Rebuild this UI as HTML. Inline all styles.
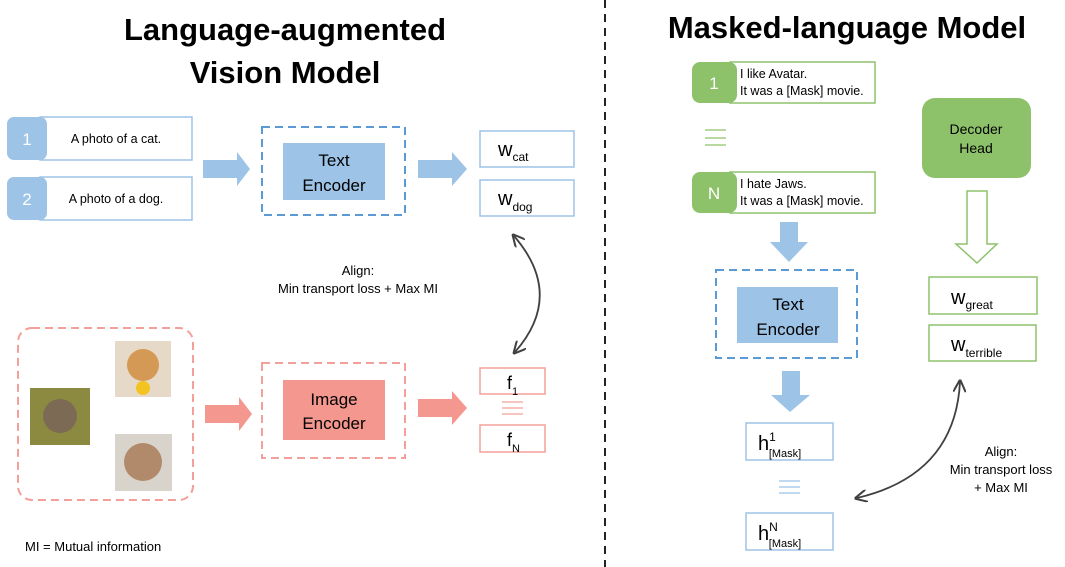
<!DOCTYPE html>
<html><head><meta charset="utf-8"><style>
body{margin:0;background:#fff}
svg{display:block;font-family:"Liberation Sans",sans-serif}
</style></head><body>
<svg width="1065" height="567" viewBox="0 0 1065 567" xmlns="http://www.w3.org/2000/svg">
<defs>
<marker id="ah" viewBox="0 0 10 10" refX="8" refY="5" markerWidth="7" markerHeight="7" orient="auto-start-reverse"><path d="M0,0 L10,5 L0,10" fill="none" stroke="#404040" stroke-width="1.6"/></marker>
</defs>
<!-- titles -->
<g font-weight="bold" font-size="31" text-anchor="middle" fill="#000">
<text x="285" y="40">Language-augmented</text>
<text x="285" y="83">Vision Model</text>
<text x="847" y="38">Masked-language Model</text>
</g>
<line x1="605" y1="0" x2="605" y2="567" stroke="#222" stroke-width="2" stroke-dasharray="8,6"/>

<!-- left text prompts -->
<g fill="#fff" stroke="#9dc3e6" stroke-width="1.5">
<rect x="40" y="117" width="152" height="43"/><rect x="40" y="177" width="152" height="43"/>
</g>
<rect x="7" y="117" width="40" height="43" rx="7" fill="#9dc3e6"/>
<rect x="7" y="177" width="40" height="43" rx="7" fill="#9dc3e6"/>
<g font-size="17" fill="#fff" text-anchor="middle"><text x="27" y="145">1</text><text x="27" y="205">2</text></g>
<g font-size="12.5" text-anchor="middle" fill="#000"><text x="116" y="143">A photo of a cat.</text><text x="116" y="203">A photo of a dog.</text></g>
<path d="M203,160 H237 V152 L250,169 L237,186 V178 H203Z" fill="#9dc3e6"/>
<rect x="262" y="127" width="143" height="88" fill="none" stroke="#5b9bd5" stroke-width="2" stroke-dasharray="8,5"/>
<rect x="283" y="143" width="102" height="57" fill="#9dc3e6"/>
<g font-size="17" text-anchor="middle"><text x="334" y="166">Text</text><text x="334" y="191">Encoder</text></g>
<path d="M418,160 H452 V152 L467,169 L452,186 V178 H418Z" fill="#9dc3e6"/>
<g fill="#fff" stroke="#9dc3e6" stroke-width="1.5"><rect x="480" y="131" width="94" height="36"/><rect x="480" y="180" width="94" height="36"/></g>
<text x="498" y="156" font-size="20">w<tspan font-size="12" dy="5">cat</tspan></text>
<text x="498" y="205" font-size="20">w<tspan font-size="12" dy="6">dog</tspan></text>
<path d="M514,236 Q565,295 515,352" fill="none" stroke="#404040" stroke-width="1.8" marker-start="url(#ah)" marker-end="url(#ah)"/>
<g font-size="13" text-anchor="middle"><text x="358" y="275">Align:</text><text x="358" y="293">Min transport loss + Max MI</text></g>

<!-- images -->
<rect x="18" y="328" width="175" height="172" rx="14" fill="none" stroke="#f4a09a" stroke-width="2" stroke-dasharray="8,5"/>
<rect x="115" y="341" width="56" height="56" fill="#e7d9c8"/><circle cx="143" cy="365" r="16" fill="#d49a55"/><circle cx="143" cy="388" r="7" fill="#f3c322"/>
<rect x="30" y="388" width="60" height="57" fill="#8c8a40"/><circle cx="60" cy="416" r="17" fill="#7c6a55"/>
<rect x="115" y="434" width="57" height="57" fill="#d8d4cc"/><circle cx="143" cy="462" r="19" fill="#b08a6a"/>
<path d="M205,405 H239 V397 L252,414 L239,431 V423 H205Z" fill="#f4978e"/>
<rect x="262" y="363" width="143" height="95" fill="none" stroke="#f4a09a" stroke-width="2" stroke-dasharray="8,5"/>
<rect x="283" y="380" width="102" height="60" fill="#f4978e"/>
<g font-size="17" text-anchor="middle"><text x="334" y="405">Image</text><text x="334" y="429">Encoder</text></g>
<path d="M418,399 H452 V391 L467,408 L452,425 V417 H418Z" fill="#f4978e"/>
<g fill="#fff" stroke="#f4a09a" stroke-width="1.5"><rect x="480" y="368" width="65" height="26"/><rect x="480" y="425" width="65" height="27"/></g>
<g stroke="#f4a09a" stroke-width="1.2"><line x1="502" y1="402" x2="523" y2="402"/><line x1="502" y1="408" x2="523" y2="408"/><line x1="502" y1="414" x2="523" y2="414"/></g>
<text x="507" y="389" font-size="18">f<tspan font-size="11" dy="6">1</tspan></text>
<text x="507" y="446" font-size="18">f<tspan font-size="11" dy="6">N</tspan></text>
<text x="25" y="551" font-size="13">MI = Mutual information</text>

<!-- right -->
<g fill="#fff" stroke="#8dc26b" stroke-width="1.5"><rect x="730" y="62" width="145" height="41"/><rect x="730" y="172" width="145" height="41"/></g>
<rect x="692" y="62" width="45" height="41" rx="8" fill="#8dc26b"/>
<rect x="692" y="172" width="45" height="41" rx="8" fill="#8dc26b"/>
<g font-size="17" fill="#fff" text-anchor="middle"><text x="714" y="89">1</text><text x="714" y="199">N</text></g>
<g font-size="12.5"><text x="740" y="78">I like Avatar.</text><text x="740" y="95">It was a [Mask] movie.</text>
<text x="740" y="188">I hate Jaws.</text><text x="740" y="205">It was a [Mask] movie.</text></g>
<g stroke="#8dc26b" stroke-width="1.2"><line x1="705" y1="130" x2="726" y2="130"/><line x1="705" y1="138" x2="726" y2="138"/><line x1="705" y1="145" x2="726" y2="145"/></g>
<path d="M780,222 H798 V242 H808 L789,262 L770,242 H780Z" fill="#9dc3e6"/>
<rect x="716" y="270" width="141" height="88" fill="none" stroke="#5b9bd5" stroke-width="2" stroke-dasharray="8,5"/>
<rect x="737" y="287" width="101" height="56" fill="#9dc3e6"/>
<g font-size="17" text-anchor="middle"><text x="788" y="310">Text</text><text x="788" y="335">Encoder</text></g>
<path d="M782,371 H800 V395 H810 L790,412 L771,395 H782Z" fill="#9dc3e6"/>
<g fill="#fff" stroke="#9dc3e6" stroke-width="1.5"><rect x="746" y="423" width="87" height="37"/><rect x="746" y="513" width="87" height="37"/></g>
<g stroke="#9dc3e6" stroke-width="1.2"><line x1="779" y1="481" x2="800" y2="481"/><line x1="779" y1="487" x2="800" y2="487"/><line x1="779" y1="493" x2="800" y2="493"/></g>
<text x="758" y="450" font-size="20">h<tspan font-size="12" dy="-9">1</tspan><tspan font-size="11" dx="-7" dy="16">[Mask]</tspan></text>
<text x="758" y="540" font-size="20">h<tspan font-size="12" dy="-9">N</tspan><tspan font-size="11" dx="-9" dy="16">[Mask]</tspan></text>
<rect x="922" y="98" width="109" height="80" rx="13" fill="#8dc26b"/>
<g font-size="14" text-anchor="middle"><text x="976" y="134">Decoder</text><text x="976" y="153">Head</text></g>
<path d="M967,191 H987 V244 H997 L977,263 L956,244 H967Z" fill="#fff" stroke="#8dc26b" stroke-width="1.5"/>
<g fill="#fff" stroke="#8dc26b" stroke-width="1.5"><rect x="929" y="277" width="108" height="37"/><rect x="929" y="325" width="107" height="36"/></g>
<text x="951" y="304" font-size="20">w<tspan font-size="12" dy="5">great</tspan></text>
<text x="951" y="351" font-size="20">w<tspan font-size="12" dy="6">terrible</tspan></text>
<path d="M857,498 Q955,475 960,382" fill="none" stroke="#404040" stroke-width="1.8" marker-start="url(#ah)" marker-end="url(#ah)"/>
<g font-size="13" text-anchor="middle"><text x="1001" y="456">Align:</text><text x="1001" y="474">Min transport loss</text><text x="1001" y="492">+ Max MI</text></g>
</svg>
</body></html>
